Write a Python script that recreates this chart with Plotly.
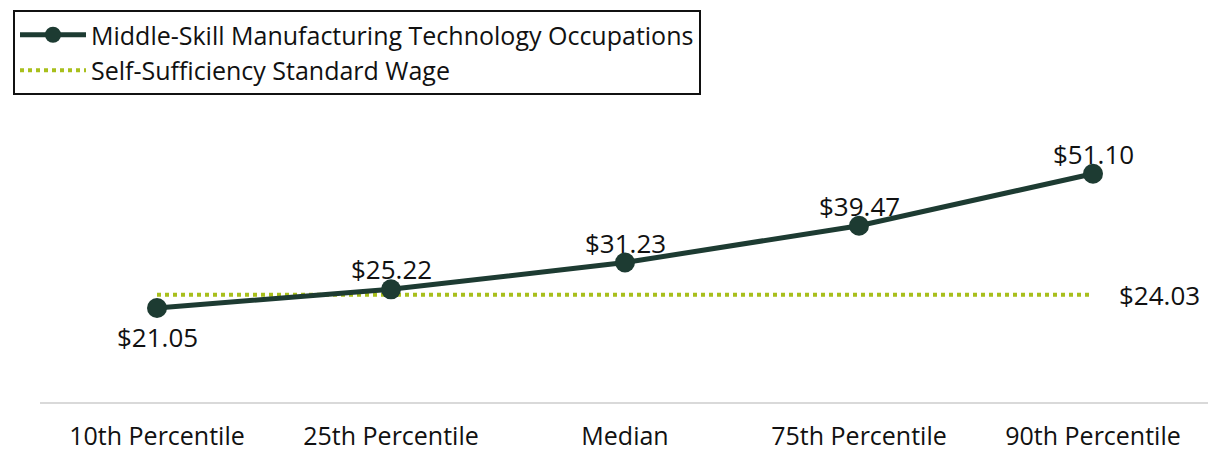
import plotly.graph_objects as go

categories = ["10th Percentile", "25th Percentile", "Median", "75th Percentile", "90th Percentile"]
occupation_wages = [21.05, 25.22, 31.23, 39.47, 51.10]
self_sufficiency_wage = [24.03, 24.03, 24.03, 24.03, 24.03]
occ_name = "Middle-Skill Manufacturing Technology Occupations"
ssw_name = "Self-Sufficiency Standard Wage"

FONT = "'Open Sans', Lato, sans-serif"
DARK = "#1d3b32"
OLIVE = "#a8bf1c"
TXT = "#111111"

# page body has an 8px default margin; size the figure to fit the window
W, H = 1208, 443

fig = go.Figure()
fig.add_trace(go.Scatter(
    x=categories, y=self_sufficiency_wage, name=ssw_name, mode="lines",
    line=dict(color=OLIVE, width=4, dash="dot"),
))
fig.add_trace(go.Scatter(
    x=categories, y=occupation_wages, name=occ_name, mode="lines+markers",
    line=dict(color=DARK, width=5),
    marker=dict(color=DARK, size=20),
    cliponaxis=False,
))
for i, (c, v) in enumerate(zip(categories, occupation_wages)):
    fig.add_annotation(
        x=c, y=v, text=f"${v:.2f}", showarrow=False,
        xanchor="center", yanchor="middle",
        yshift=-29 if i == 0 else 20,
        font=dict(size=26, color=TXT, family=FONT),
    )
fig.add_annotation(
    x=categories[-1], y=self_sufficiency_wage[-1], text=f"${self_sufficiency_wage[-1]:.2f}",
    showarrow=False, xanchor="left", yanchor="middle", xshift=24,
    font=dict(size=26, color=TXT, family=FONT),
)

fig.update_layout(
    width=W, height=H,
    margin=dict(l=32, r=6, t=126, b=49, autoexpand=False),
    paper_bgcolor="white", plot_bgcolor="white",
    font=dict(family=FONT, size=24, color=TXT),
    showlegend=True,
    legend=dict(
        xref="container", yref="container",
        x=5 / W, y=1 - 2 / H, xanchor="left", yanchor="top",
        bordercolor=TXT, borderwidth=2, bgcolor="white",
        traceorder="reversed",
        font=dict(size=25, family=FONT, color=TXT),
        itemwidth=66, tracegroupgap=0,
    ),
    xaxis=dict(
        showgrid=False, showline=True, linecolor="#d9d9d9", linewidth=2,
        ticks="", tickfont=dict(size=25, family=FONT, color=TXT),
        ticklabelstandoff=11,
        range=[-0.5, 4.5], fixedrange=True,
    ),
    yaxis=dict(
        range=[0, 60], showgrid=False, showticklabels=False, zeroline=False,
        showline=False, fixedrange=True,
    ),
)

fig.write_html("out.html")
